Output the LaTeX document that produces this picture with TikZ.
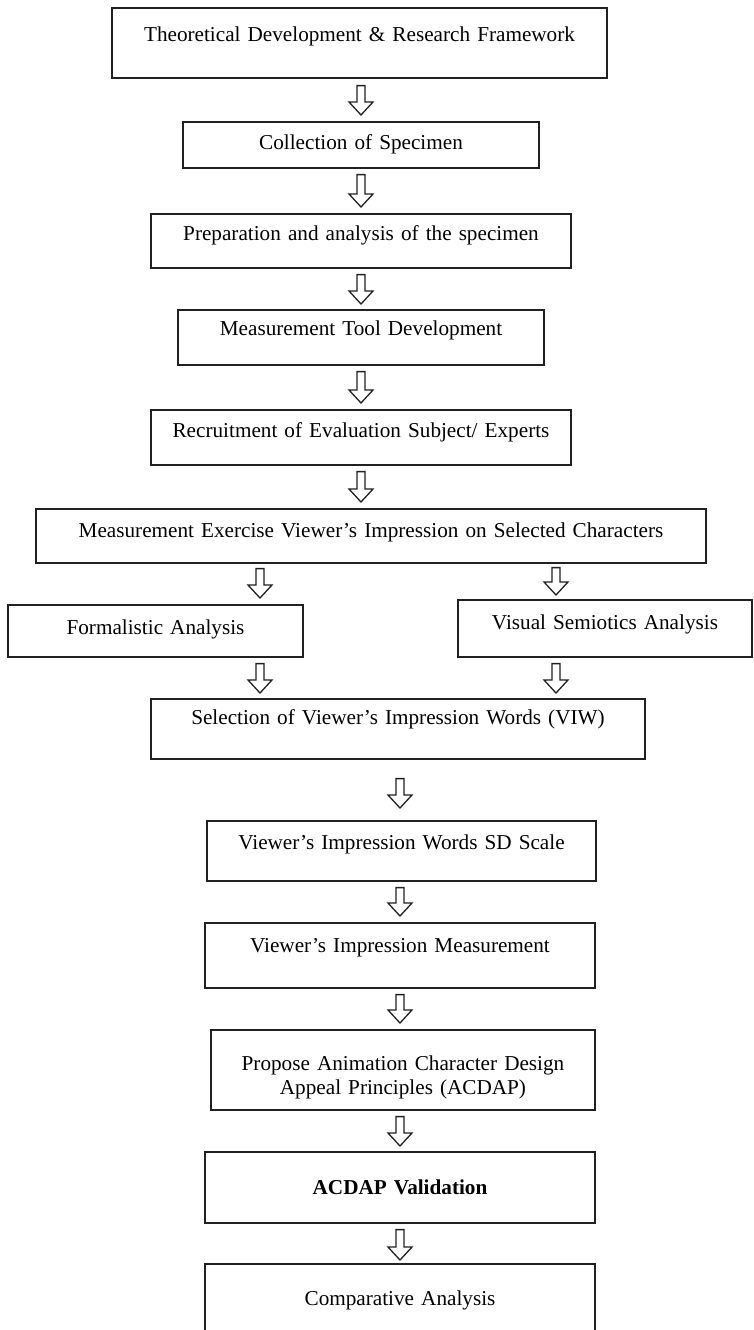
\documentclass[tikz,border=0pt]{standalone}
\usepackage{fontspec}
\setmainfont{Liberation Serif}
\usetikzlibrary{calc}
\tikzset{>=latex}
\tikzset{
  box/.style={draw=black!87, line width=1.6pt, anchor=north, inner xsep=0pt, inner ysep=0pt, align=center},
  hollow/.style={draw=black!87, line width=1.3pt, fill=white, line join=miter,
    to path={let \p1=(\tikztostart), \p2=(\tikztotarget) in
      (\x1-4pt,\y1) -- (\x1+4pt,\y1) -- (\x1+4pt,\y2+13pt) -- (\x1+12pt,\y2+13pt)
      -- (\x1,\y2) -- (\x1-12pt,\y2+13pt) -- (\x1-4pt,\y2+13pt) -- cycle}}
}

\begin{document}
\begin{tikzpicture}[x=1pt, y=-1pt, font=\fontsize{21.2}{24}\selectfont]
  \clip (0,0) rectangle (754,1330);
  % main column
  \node[box, text width=495pt, text height=34pt, text depth=36pt] (b1) at (359.5,7) {Theoretical Development \& Research Framework};
  \node[box, text width=356pt, text height=28pt, text depth=18pt] (b2) at (361,121) {Collection of Specimen};
  \node[box, text width=420pt, text height=27pt, text depth=27pt] (b3) at (361,213) {Preparation and analysis of the specimen};
  \node[box, text width=366pt, text height=26pt, text depth=29pt] (b4) at (361,309) {Measurement Tool Development};
  \node[box, text width=420pt, text height=28pt, text depth=27pt] (b5) at (361,409) {Recruitment of Evaluation Subject/ Experts};
  \node[box, text width=670pt, text height=29pt, text depth=25pt] (b6) at (371,508) {Measurement Exercise Viewer's Impression on Selected Characters};
  % two branches
  \node[box, text width=295pt, text height=30pt, text depth=22pt] (b7l) at (155.5,604) {Formalistic Analysis};
  \node[box, text width=294pt, text height=30pt, text depth=27pt] (b7r) at (605,599) {Visual Semiotics Analysis};
  \node[box, text width=494pt, text height=26pt, text depth=34pt] (b8) at (398,698) {Selection of Viewer's Impression Words (VIW)};
  \node[box, text width=389pt, text height=29pt, text depth=31pt] (b9) at (401.5,820) {Viewer's Impression Words SD Scale};
  \node[box, text width=390pt, text height=30pt, text depth=35pt] (b10) at (400,922) {Viewer's Impression Measurement};
  \node[box, text width=384pt, text height=41pt, text depth=39pt] (b11) at (403,1029) {Propose Animation Character Design\\ Appeal Principles (ACDAP)};
  \node[box, text width=390pt, text height=43pt, text depth=28pt] (b12) at (400,1151) {\textbf{ACDAP Validation}};
  \node[box, text width=390pt, text height=42pt, text depth=90pt] (b13) at (400,1263) {Comparative Analysis};
  % arrow columns
  \coordinate (ca) at (361,0);
  \coordinate (cl) at (260,0);
  \coordinate (cr) at (556,0);
  \coordinate (cb) at (400,0);
  \draw[hollow] ($(b1.south -| ca)+(0,7)$) to ($(b2.north -| ca)-(0,6)$);
  \draw[hollow] ($(b2.south -| ca)+(0,6)$) to ($(b3.north -| ca)-(0,6)$);
  \draw[hollow] ($(b3.south -| ca)+(0,6)$) to ($(b4.north -| ca)-(0,5)$);
  \draw[hollow] ($(b4.south -| ca)+(0,6)$) to ($(b5.north -| ca)-(0,6)$);
  \draw[hollow] ($(b5.south -| ca)+(0,6)$) to ($(b6.north -| ca)-(0,6)$);
  \draw[hollow] ($(b6.south -| cl)+(0,5)$) to ($(b7l.north -| cl)-(0,6)$);
  \draw[hollow] ($(b6.south -| cr)+(0,4)$) to ($(b7r.north -| cr)-(0,4)$);
  \draw[hollow] ($(b7l.south -| cl)+(0,6)$) to ($(b8.north -| cl)-(0,5)$);
  \draw[hollow] ($(b7r.south -| cr)+(0,6)$) to ($(b8.north -| cr)-(0,5)$);
  \draw[hollow] ($(b8.south -| cb)+(0,19)$) to ($(b9.north -| cb)-(0,12)$);
  \draw[hollow] ($(b9.south -| cb)+(0,6)$) to ($(b10.north -| cb)-(0,6)$);
  \draw[hollow] ($(b10.south -| cb)+(0,6)$) to ($(b11.north -| cb)-(0,6)$);
  \draw[hollow] ($(b11.south -| cb)+(0,6)$) to ($(b12.north -| cb)-(0,5)$);
  \draw[hollow] ($(b12.south -| cb)+(0,6)$) to ($(b13.north -| cb)-(0,3)$);
\end{tikzpicture}
\end{document}
